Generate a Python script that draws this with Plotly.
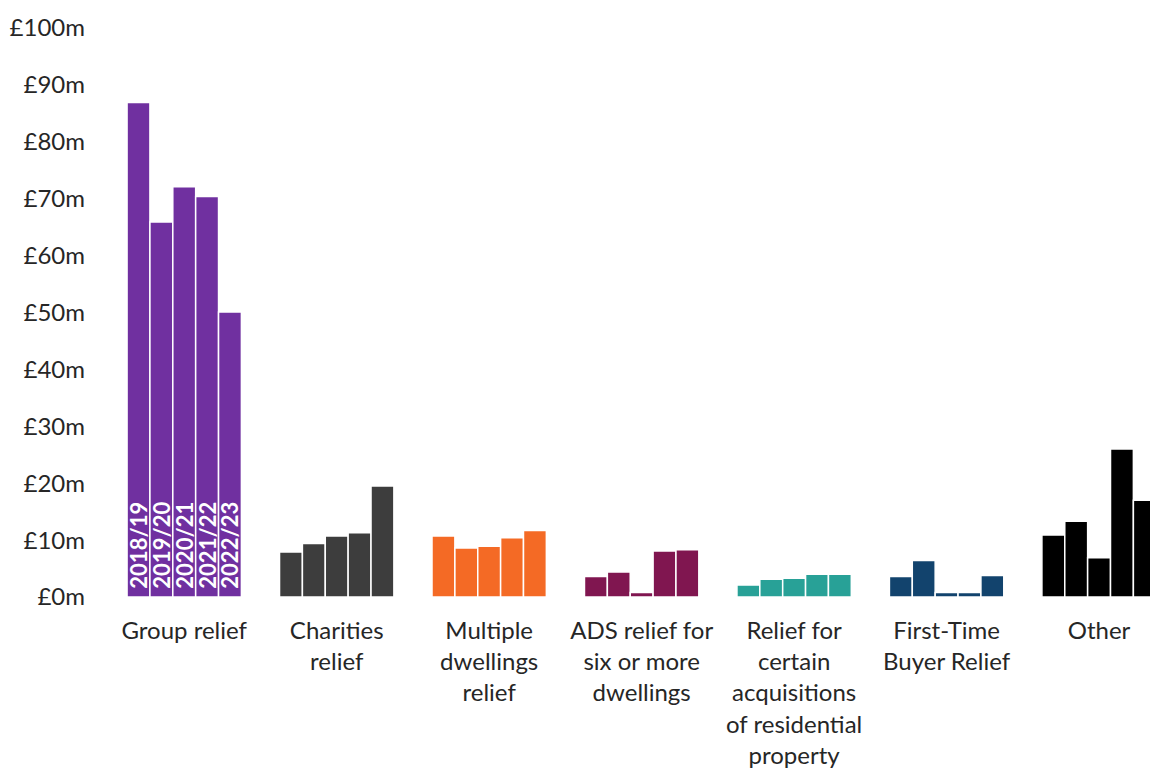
import plotly.graph_objects as go

categories = [
    "Group relief",
    "Charities<br>relief",
    "Multiple<br>dwellings<br>relief",
    "ADS relief for<br>six or more<br>dwellings",
    "Relief for<br>certain<br>acquisitions<br>of residential<br>property",
    "First-Time<br>Buyer Relief",
    "Other",
]
years = ["2018/19", "2019/20", "2020/21", "2021/22", "2022/23"]

# values in £m, one list per year, ordered as categories
v2018 = [86.9, 7.9, 10.7, 3.6, 2.1, 3.6, 10.9]
v2019 = [65.9, 9.4, 8.6, 4.4, 3.1, 6.4, 13.3]
v2020 = [72.1, 10.7, 8.9, 0.8, 3.3, 0.8, 6.9]
v2021 = [70.4, 11.3, 10.4, 8.1, 4.0, 0.8, 26.0]
v2022 = [50.1, 19.5, 11.7, 8.3, 4.0, 3.8, 17.0]
series = [v2018, v2019, v2020, v2021, v2022]

cat_colors = ["#7030A0", "#3D3D3D", "#F46A25", "#801650", "#28A197", "#12436D", "#000000"]

font_family = "Lato, 'Open Sans', sans-serif"

fig = go.Figure()
for yr, vals in zip(years, series):
    txt = [" " + yr] + [""] * (len(categories) - 1)
    fig.add_trace(go.Bar(
        x=categories,
        y=vals,
        name=yr,
        marker=dict(color=cat_colors, line=dict(color="#FFFFFF", width=1.5)),
        text=txt,
        textposition="inside",
        insidetextanchor="start",
        textangle=-90,
        textfont=dict(color="#FFFFFF", size=22, family=font_family, weight="bold"),
        hovertemplate="%{x}<br>" + yr + ": £%{y}m<extra></extra>",
    ))

fig.update_layout(
    width=1150,
    height=771,
    barmode="group",
    bargap=0.25,
    bargroupgap=0,
    showlegend=False,
    plot_bgcolor="#FFFFFF",
    paper_bgcolor="#FFFFFF",
    margin=dict(l=108, r=0, t=28, b=174),
    font=dict(family=font_family, size=24, color="#262626"),
    uniformtext=dict(minsize=22, mode="show"),
)
fig.update_xaxes(
    range=[-0.5, 6.334],
    showgrid=False,
    showline=False,
    ticks="",
    tickfont=dict(size=24, color="#262626"),
    tickangle=0,
    ticklabelstandoff=17,
)
fig.update_yaxes(
    range=[0, 100],
    dtick=10,
    showgrid=False,
    zeroline=False,
    showline=False,
    tickprefix="£",
    ticksuffix="m",
    tickfont=dict(size=24, color="#262626"),
    ticklabelstandoff=22,
)

fig.write_html("out.html")
